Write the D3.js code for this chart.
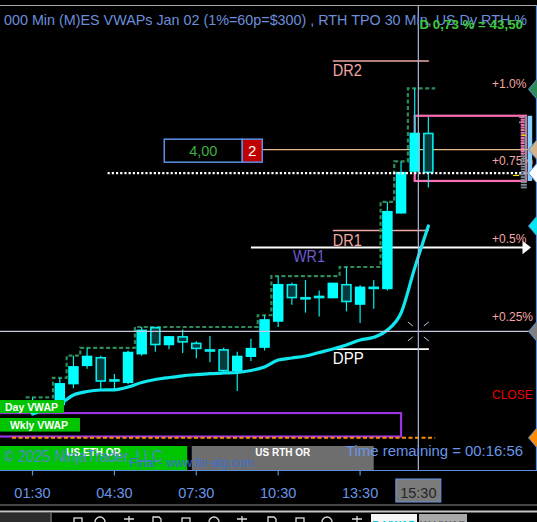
<!DOCTYPE html>
<html><head><meta charset="utf-8">
<script src="https://cdn.jsdelivr.net/npm/d3@7"></script>
<style>html,body{margin:0;padding:0;background:#000;overflow:hidden}svg{display:block;font-family:"Liberation Sans",Arial,sans-serif}</style>
</head><body>
<svg id="c" width="537" height="522"></svg>
<script>
// ---------- DATA ----------
const barTimes = ["01:30","02:00","02:30","03:00","03:30","04:00","04:30","05:00","05:30","06:00","06:30","07:00","07:30","08:00","08:30","09:00","09:30","10:00","10:30","11:00","11:30","12:00","12:30","13:00","13:30","14:00","14:30","15:00","15:30","16:00"];
const opens  = [5957.5,5958.25,5957.75,5961.75,5965.25,5967.0,5962.75,5962.0,5967.5,5972.75,5969.25,5971.0,5969.75,5968.5,5968.5,5964.25,5967.0,5968.75,5973.75,5981.0,5978.5,5978.75,5978.25,5981.0,5977.0,5980.5,5980.0,5994.5,6002.5,6010.0];
const highs  = [5959.25,5958.75,5963.0,5967.25,5968.75,5967.25,5963.75,5968.25,5972.75,5972.75,5971.0,5972.25,5970.0,5971.0,5968.75,5968.0,5970.5,5975.0,5982.5,5981.25,5981.75,5979.75,5981.25,5984.25,5980.75,5981.75,5996.75,6004.5,6018.5,6013.0];
const lows   = [5957.0,5957.25,5956.75,5961.0,5964.75,5960.75,5960.5,5961.75,5967.25,5968.0,5968.5,5967.75,5966.75,5966.0,5963.75,5960.5,5966.25,5968.25,5972.75,5977.0,5975.5,5974.75,5978.25,5975.75,5973.5,5976.25,5979.75,5994.5,6002.5,5999.5];
const closes = [5958.25,5957.75,5962.0,5965.25,5967.25,5962.25,5962.25,5968.0,5972.25,5969.25,5971.0,5969.75,5968.5,5968.0,5964.25,5967.25,5968.75,5974.25,5981.0,5978.25,5978.0,5978.25,5981.25,5977.5,5980.5,5980.0,5995.0,6002.5,6010.0,6002.25];
const dayVwap = [5956.07,5957.02,5957.98,5959.71,5960.38,5960.67,5960.71,5961.24,5962.11,5962.68,5963.06,5963.39,5963.62,5963.81,5963.93,5964.02,5964.41,5965.08,5966.42,5966.8,5967.19,5967.86,5968.53,5969.3,5970.25,5970.77,5972.17,5975.43,5984.06,5992.11];
const timeTicks = ["01:30","04:30","07:30","10:30","13:30"];
const priorClose = 5958.75;
const currentPrice = 6002.25;
const pctLevels = [0.25,0.5,0.75,1.0];
const pctLabels = ["+0.25%","+0.5%","+0.75%","+1.0%"];
const pivotNames  = ["DR2","DR1","DPP"];
const pivotPrices = [6023.75,5991.25,5968.5];
const pivotColors = ["#f2a7a7","#f2a7a7","#ffffff"];
const weeklyName = "WR1", weeklyPrice = 5988.0;
const targetPrice = 6006.75, targetText = "4,00", targetQty = "2";
const rangeBox = [6013.25, 6000.75];
const orangeLevel = 5951.5;
const weeklyBox = [5956.25, 5951.75];
const dayVwapLabelPrice = 5957.5, wklyVwapLabelPrice = 5954.0;
const crosshairTime = "15:38", crosshairLabel = "15:30", crosshairPrice = 5971.9;
const tpoPrices = [6013.0,6012.5,6012.0,6011.5,6011.0,6010.5,6010.0,6009.5,6009.0,6008.5,6008.0,6007.5,6007.0,6006.5,6006.0,6005.5,6005.0,6004.5,6004.0,6003.5,6003.0,6002.5,6002.0,6001.5,6001.0,6000.5,6000.0,5999.5];
const tpoCounts = [3,2,3,2,2,2,2,2,2,2,2,2,2,2,2,2,2,2,2,2,2,2,3,2,2,2,2,2];
const tpoPink   = [1,1,1,1,1,1,1,1,1,1,1,1,1,1,1,0,0,0,0,0,0,0,0,0,0,0,0,0];
const titleText = "000 Min (M)ES VWAPs Jan 02 (1%=60p=$300) , RTH TPO 30 Min, US Dy RTH %";
const deltaText = "D 0,73 % = 43,50";
const timeRemaining = "Time remaining = 00:16:56";
const copyright = "\u00a9 2025 NinjaTrader, LLC";
const finalText = "Final - www.fin-alg.com";
const orNames = ["US ETH OR","US RTH OR"];
const orFrom = [null,"07:20"];
const orTo = ["07:10","14:00"];
const orColors = ["#00c400","#6e6e6e"];

// ---------- SETUP ----------
const W = 537, H = 522, plotTop = 5.5, plotBottom = 470.5, axisX = 536.5;
const toMin = s => +s.slice(0,2)*60 + +s.slice(3);
const x = d3.scaleLinear().domain([toMin("01:30"), toMin("13:30")]).range([32.5, 360.1]);
const y = d3.scaleLinear().domain([5945.33, 6034.39]).range([470, 5.5]);
const barStep = x(toMin("02:00")) - x(toMin("01:30"));
const bodyW = 10.5;
const bars = barTimes.map((t,i)=>({t:toMin(t), o:opens[i], h:highs[i], l:lows[i], c:closes[i], v:dayVwap[i]}));

const svg = d3.select("#c");
svg.append("rect").attr("width",W).attr("height",H).attr("fill","#000");
const g = svg.append("g");

function txt(parent, xx, yy, s, o={}) {
  const t = parent.append("text").attr("x",xx).attr("y",yy).text(s)
    .attr("font-size",o.size||12).attr("fill",o.fill||"#fff")
    .attr("font-weight",o.weight||"normal").attr("text-anchor",o.anchor||"start");
  if (o.len) t.attr("textLength",o.len).attr("lengthAdjust","spacingAndGlyphs");
  if (o.opacity) t.attr("opacity",o.opacity);
  return t;
}

// top border
g.append("line").attr("x1",0).attr("x2",W).attr("y1",plotTop).attr("y2",plotTop).attr("stroke","#a8a8a8").attr("stroke-width",1.2);

// OR boxes at bottom
orNames.forEach((n,i)=>{
  const x0 = orFrom[i] ? x(toMin(orFrom[i])) : 0, x1 = x(toMin(orTo[i]));
  g.append("rect").attr("x",x0).attr("y",446).attr("width",x1-x0).attr("height",24).attr("fill",orColors[i]);
  txt(g,(x0+x1)/2,455.5,n,{size:10,weight:"bold",anchor:"middle"});
});

// weekly box (purple)
g.append("rect").attr("x",-5).attr("y",y(weeklyBox[0])).attr("width",x(toMin("15:00"))+5).attr("height",y(weeklyBox[1])-y(weeklyBox[0]))
  .attr("fill","none").attr("stroke","#9a33e0").attr("stroke-width",2.2);
// orange dashed
g.append("line").attr("x1",x(toMin("00:45"))).attr("x2",x(toMin("16:15"))).attr("y1",y(orangeLevel)).attr("y2",y(orangeLevel))
  .attr("stroke","#ff8c00").attr("stroke-width",2).attr("stroke-dasharray","4,2.5");

// pivots
pivotNames.forEach((n,i)=>{
  const yy = y(pivotPrices[i]);
  g.append("line").attr("x1",x(toMin("12:30"))).attr("x2",x(toMin("16:00"))+0.5).attr("y1",yy).attr("y2",yy).attr("stroke",pivotColors[i]).attr("stroke-width",1.6);
  txt(g,x(toMin("12:30")),yy+15,n,{size:16,fill:pivotColors[i],len:n==="DPP"?31:29});
});
// weekly R1 with arrow
{
  const yy = y(weeklyPrice);
  g.append("line").attr("x1",x(toMin("09:30"))).attr("x2",523).attr("y1",yy).attr("y2",yy).attr("stroke","#fff").attr("stroke-width",2);
  g.append("path").attr("d",`M522.5,${yy-6.8}L531,${yy}L522.5,${yy+6.8}Z`).attr("fill","#fff");
  txt(g,x(toMin("09:30"))+42,yy+14.5,weeklyName,{size:16,fill:"#6a5acd",len:32});
}

// range box (pink)
g.append("rect").attr("x",x(toMin("15:30"))).attr("y",y(rangeBox[0])).attr("width",526-x(toMin("15:30"))).attr("height",y(rangeBox[1])-y(rangeBox[0]))
  .attr("fill","none").attr("stroke","#ff6eb4").attr("stroke-width",2.2);

// target line + box
{
  const ty = y(targetPrice), tx = x(toMin("09:55"));
  g.append("line").attr("x1",tx).attr("x2",531).attr("y1",ty).attr("y2",ty).attr("stroke","#e8b888").attr("stroke-width",1.2);
  g.append("rect").attr("x",tx-98).attr("y",ty-10.5).attr("width",78).attr("height",23).attr("fill","#000").attr("stroke","#5b8fe8").attr("stroke-width",1.5);
  g.append("rect").attr("x",tx-20).attr("y",ty-10.5).attr("width",20).attr("height",23).attr("fill","#c00000").attr("stroke","#5b8fe8").attr("stroke-width",1.5);
  txt(g,tx-59,ty+6.5,targetText,{size:14.5,fill:"#3cb043",anchor:"middle"});
  txt(g,tx-10,ty+6.5,targetQty,{size:15,fill:"#fff",anchor:"middle"});
}

// step line (running high)
{
  let run = -Infinity;
  const pts = bars.map(b=>{run=Math.max(run,b.h);return [x(b.t)-barStep/2, y(run)];});
  pts.push([x(bars[bars.length-1].t)+barStep/2, y(run)]);
  g.append("path").attr("d",d3.line().curve(d3.curveStepAfter)(pts)).attr("fill","none")
    .attr("stroke","#2e8b57").attr("stroke-width",2.2).attr("stroke-dasharray","4,2.5");
}

// candles
const cg = g.append("g");
bars.forEach(b=>{
  const cx = x(b.t), up = b.c >= b.o;
  cg.append("line").attr("x1",cx).attr("x2",cx).attr("y1",y(b.h)).attr("y2",y(b.l)).attr("stroke","#00f0f0").attr("stroke-width",1.2);
  const y0 = y(Math.max(b.o,b.c)), y1 = y(Math.min(b.o,b.c));
  if (up) {
    cg.append("rect").attr("x",cx-bodyW/2).attr("y",y0).attr("width",bodyW).attr("height",Math.max(1.5,y1-y0)).attr("fill","#00ffff");
  } else {
    cg.append("rect").attr("x",cx-bodyW/2+0.75).attr("y",y0+0.75).attr("width",bodyW-1.5).attr("height",Math.max(1,y1-y0-1.5))
      .attr("fill","#063a3c").attr("stroke","#00f0f0").attr("stroke-width",1.6);
  }
});

// VWAP line
g.append("path").attr("d",d3.line().x(b=>x(b.t)).y(b=>y(b.v)).curve(d3.curveMonotoneX)(bars))
  .attr("fill","none").attr("stroke","#10e8f0").attr("stroke-width",3.2).attr("stroke-linecap","round");

// current price dotted
g.append("line").attr("x1",x(toMin("04:15"))).attr("x2",528).attr("y1",y(currentPrice)).attr("y2",y(currentPrice))
  .attr("stroke","#fff").attr("stroke-width",2.4).attr("stroke-dasharray","2.2,2");

// crosshair
{
  const cx = x(toMin(crosshairTime)), cy = y(crosshairPrice);
  g.append("line").attr("x1",0).attr("x2",axisX).attr("y1",cy).attr("y2",cy).attr("stroke","#c2c8e0").attr("stroke-width",1.4);
  g.append("line").attr("x1",cx).attr("x2",cx).attr("y1",plotTop).attr("y2",plotBottom).attr("stroke","#aab4dc").attr("stroke-width",1.2);
  [[-1,-1],[1,-1],[-1,1],[1,1]].forEach(([sx,sy])=>{
    g.append("line").attr("x1",cx+sx*10.5).attr("y1",cy+sy*9.5).attr("x2",cx+sx*5.5).attr("y2",cy+sy*5.5).attr("stroke","#c8cce0").attr("stroke-width",1);
  });
}

// percent levels labels + close
pctLevels.forEach((p,i)=>{
  txt(g,492,y(priorClose*(1+p/100))-1.5,pctLabels[i],{size:12,fill:"#f4a6a6"});
});
txt(g,492,y(priorClose)-1.5,"CLOSE",{size:12,fill:"#ee0000"});

// TPO profile
tpoPrices.forEach((p,i)=>{
  const yy = y(p)-0.9;
  const wide = tpoCounts[i] > 2;
  g.append("rect").attr("x",wide?519:520.8).attr("y",yy).attr("width",wide?8:6).attr("height",1.8).attr("fill","#7d8a95");
  if (tpoPink[i]) g.append("rect").attr("x",520.8).attr("y",yy).attr("width",3.4).attr("height",1.8).attr("fill","#ff6eb4");
});
g.append("line").attr("x1",521.7).attr("x2",526).attr("y1",y(6009.5)).attr("y2",y(6009.5)).attr("stroke","#f0e000").attr("stroke-width",1.2);
g.append("line").attr("x1",513).attr("x2",519).attr("y1",y(6002.0)+1).attr("y2",y(6002.0)+1).attr("stroke","#f0e000").attr("stroke-width",1.2);
g.append("rect").attr("x",527.7).attr("y",y(rangeBox[0])).attr("width",4.5).attr("height",y(rangeBox[1])-y(rangeBox[0])).attr("fill","#87cefa");

// labels left (VWAP tags)
g.append("rect").attr("x",0).attr("y",y(dayVwapLabelPrice)-6.5).attr("width",64).attr("height",13).attr("fill","#00c400");
txt(g,5,y(dayVwapLabelPrice)+4,"Day VWAP",{size:11,weight:"bold",len:53});
g.append("rect").attr("x",0).attr("y",y(wklyVwapLabelPrice)-6.8).attr("width",80).attr("height",13.6).attr("fill","#00c400");
txt(g,10,y(wklyVwapLabelPrice)+4,"Wkly VWAP",{size:11,weight:"bold",len:58});

// axis line (right) and markers
g.append("line").attr("x1",axisX).attr("x2",axisX).attr("y1",plotTop).attr("y2",plotBottom).attr("stroke","#5b8fd9").attr("stroke-width",1.2);
const markers = [[priorClose*1.01,"#2e8b57"],[targetPrice,"#d2b48c"],[currentPrice,"#ffffff"],[dayVwap[dayVwap.length-1],"#00e8f0"],[crosshairPrice,"#808080"],[orangeLevel,"#ff8c00"]];
markers.forEach(([p,c])=>{
  const yy = y(p);
  g.append("path").attr("d",`M528.5,${yy}L537,${yy-10}L546,${yy}L537,${yy+10}Z`).attr("fill",c).attr("stroke","#5b8fd9").attr("stroke-width",1);
});

// bottom texts
txt(g,3.5,462,copyright,{size:16,fill:"#5a82e0",len:159,opacity:0.9});
txt(g,129.5,466.5,finalText,{size:13,fill:"#3b6fd1",len:124});
txt(g,346,455.5,timeRemaining,{size:15.5,fill:"#6a95e8",len:177});

// time axis
g.append("line").attr("x1",0).attr("x2",W).attr("y1",plotBottom).attr("y2",plotBottom).attr("stroke","#5b8fd9").attr("stroke-width",1.2);
timeTicks.forEach(t=>{
  const tx = x(toMin(t));
  g.append("line").attr("x1",tx).attr("x2",tx).attr("y1",plotBottom).attr("y2",plotBottom+5).attr("stroke","#5b8fd9").attr("stroke-width",1.2);
  txt(g,tx,497.5,t,{size:14.5,fill:"#6a95e6",anchor:"middle"});
});
{
  const cx = x(toMin(crosshairTime));
  g.append("rect").attr("x",cx-22.5).attr("y",479).attr("width",45).attr("height",23).attr("fill","#7b7b7b").attr("stroke","#6a95e6").attr("stroke-width",1);
  txt(g,cx,497.5,crosshairLabel,{size:14.5,fill:"#262626",anchor:"middle"});
}

// title
txt(g,4,25,titleText,{size:14.5,fill:"#6b8fdc",len:523});
txt(g,419.5,29,deltaText,{size:13.5,fill:"#3cc83c",weight:"bold",len:103.5});

// bottom toolbar
g.append("line").attr("x1",0).attr("x2",W).attr("y1",505).attr("y2",505).attr("stroke","#8c8c8c").attr("stroke-width",1);
g.append("line").attr("x1",0).attr("x2",W).attr("y1",511.5).attr("y2",511.5).attr("stroke","#c4c4c4").attr("stroke-width",2);
g.append("rect").attr("x",0).attr("y",513).attr("width",50).attr("height",9).attr("fill","#2c2c2c");
g.append("rect").attr("x",50).attr("y",513).attr("width",2).attr("height",9).attr("fill","#555");
const iconX = [78,100,129,157,186,214,242,272,300,327,357];
iconX.forEach((ix,i)=>{
  const k = i%4;
  if (k===0) g.append("rect").attr("x",ix-4).attr("y",518).attr("width",8).attr("height",6).attr("fill","none").attr("stroke","#ddd").attr("stroke-width",1.3);
  else if (k===1) g.append("circle").attr("cx",ix).attr("cy",522).attr("r",5).attr("fill","none").attr("stroke","#ddd").attr("stroke-width",1.3);
  else if (k===2) { g.append("line").attr("x1",ix-5).attr("x2",ix+5).attr("y1",519).attr("y2",519).attr("stroke","#ddd").attr("stroke-width",1.5); g.append("line").attr("x1",ix).attr("x2",ix).attr("y1",516).attr("y2",522).attr("stroke","#ddd").attr("stroke-width",1.3);}
  else g.append("path").attr("d",`M${ix-4},522L${ix-4},517L${ix+2},517L${ix+4},519L${ix+4},522`).attr("fill","none").attr("stroke","#ddd").attr("stroke-width",1.3);
});
g.append("rect").attr("x",371).attr("y",514).attr("width",46).attr("height",8).attr("fill","#f6f6f6");
txt(g,394,529,"D VWAP",{size:11,weight:"bold",fill:"#00c8e0",anchor:"middle"});
g.append("rect").attr("x",419).attr("y",514).attr("width",48).attr("height",8).attr("fill","#a9a9a9");
txt(g,443,529,"W VWAP",{size:11,weight:"bold",fill:"#6a6a6a",anchor:"middle"});
</script>
</body></html>
